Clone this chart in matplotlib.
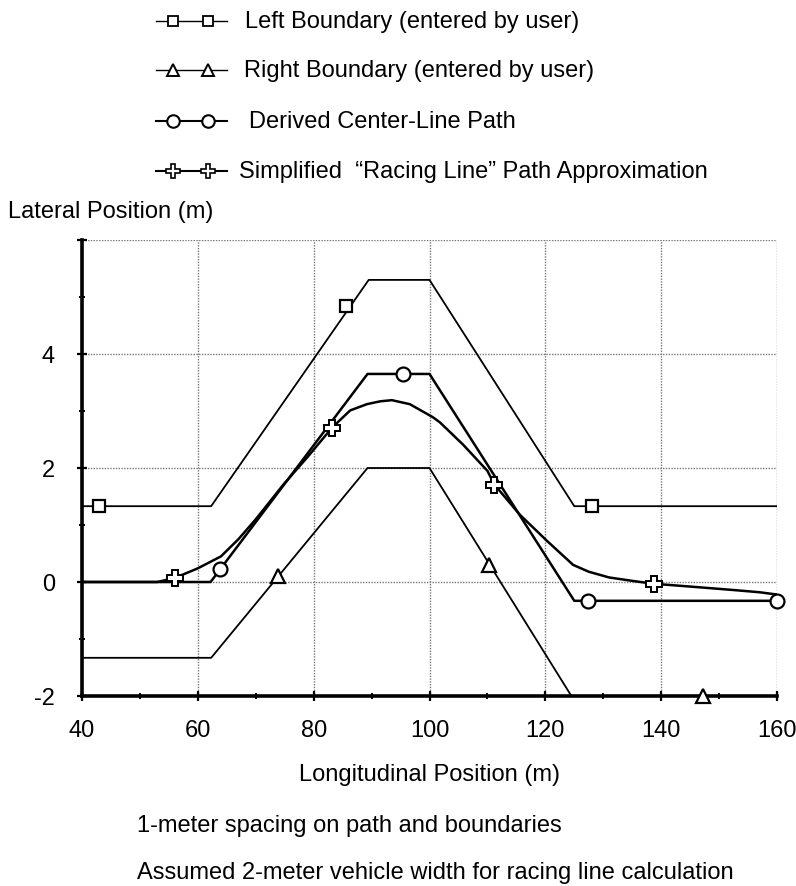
import matplotlib
matplotlib.use("Agg")
import matplotlib.pyplot as plt
from matplotlib.lines import Line2D
from matplotlib.ticker import MultipleLocator, FixedLocator

plt.rcParams['font.family'] = ['Liberation Sans', 'DejaVu Sans']

# ---- data ----
left_x = [40, 62.3, 89.5, 100, 125, 160]
left_y = [1.33, 1.33, 5.3, 5.3, 1.33, 1.33]
left_mx = [43, 85.5, 128]
left_my = [1.33, 4.85, 1.33]

right_x = [40, 62.3, 89.3, 100, 124.5, 160]
right_y = [-1.33, -1.33, 2.0, 2.0, -2.0, -2.0]
right_mx = [73.8, 110.3, 147.3]
right_my = [0.1, 0.3, -2.0]

center_x = [40, 62.2, 89.3, 100, 125, 160]
center_y = [0, 0, 3.65, 3.65, -0.33, -0.33]
center_mx = [63.8, 95.5, 127.3, 160]
center_my = [0.22, 3.65, -0.33, -0.33]

racing_x = [40, 53, 56, 60, 64, 67, 70, 74.7, 79, 83.2, 86.3, 89.2, 91.5, 93.5,
            96.6, 100.6, 101.8, 105.8, 110, 111.2, 115.6, 120.3, 124.8, 127.5,
            131, 135, 138.6, 145, 152.4, 157, 160]
racing_y = [0, 0, 0.07, 0.24, 0.45, 0.75, 1.1, 1.7, 2.2, 2.71, 3.01, 3.12, 3.17, 3.19,
            3.12, 2.89, 2.80, 2.41, 1.95, 1.71, 1.18, 0.72, 0.30, 0.18,
            0.08, 0.02, -0.03, -0.08, -0.14, -0.18, -0.22]
racing_mx = [56, 83.2, 111.2, 138.8]
racing_my = [0.07, 2.71, 1.71, -0.03]

labels = ["Left Boundary (entered by user)",
          "Right Boundary (entered by user)",
          "Derived Center-Line Path",
          "Simplified  \u201cRacing Line\u201d Path Approximation"]
x_ticks = [40, 60, 80, 100, 120, 140, 160]
y_ticks = [-2, 0, 2, 4, 6]
y_tick_labels = ["-2", "0", "2", "4", ""]
notes = ["1-meter spacing on path and boundaries",
         "Assumed 2-meter vehicle width for racing line calculation"]

W, H = 796, 887
fig = plt.figure(figsize=(W / 100, H / 100), dpi=100)
ax = fig.add_axes([82 / W, 1 - 697 / H, (777 - 82) / W, (697 - 241) / H])

FS = 17
mk = dict(color='black', markerfacecolor='white', markeredgecolor='black',
          linestyle='none', clip_on=False, zorder=5)

ax.plot(left_x, left_y, color='black', lw=1.3, zorder=3)
ax.plot(right_x, right_y, color='black', lw=1.3, zorder=3)
ax.plot(center_x, center_y, color='black', lw=1.8, zorder=3)
ax.plot(racing_x, racing_y, color='black', lw=1.8, zorder=3)

ax.plot(left_mx, left_my, marker='s', ms=9, mew=1.6, **mk)
ax.plot(right_mx, right_my, marker='^', ms=10, mew=1.6, **mk)
ax.plot(center_mx, center_my, marker='o', ms=10, mew=1.6, **mk)
ax.plot(racing_mx, racing_my, marker='P', ms=11, mew=1.4, **mk)

ax.set_xlim(40, 160)
ax.set_ylim(-2, 6)
ax.xaxis.set_major_locator(FixedLocator(x_ticks))
ax.xaxis.set_minor_locator(MultipleLocator(10))
ax.yaxis.set_major_locator(FixedLocator(y_ticks))
ax.set_yticklabels(y_tick_labels)
ax.yaxis.set_minor_locator(MultipleLocator(1))
ax.tick_params(axis='both', which='major', direction='inout', length=7, width=1.6,
               labelsize=FS, colors='black')
ax.tick_params(axis='both', which='minor', direction='inout', length=5, width=1.4)
ax.tick_params(axis='x', which='major', pad=13)
ax.tick_params(axis='y', which='major', pad=16)

ax.grid(True, which='major', color='#777777', linestyle=(0, (1, 1)), lw=1.0, zorder=1)
for s in ['top', 'right']:
    ax.spines[s].set_visible(False)
for s in ['left', 'bottom']:
    ax.spines[s].set_linewidth(2.6)
    ax.spines[s].set_zorder(4)

ax.set_xlabel("Longitudinal Position (m)", fontsize=FS, labelpad=16)
fig.text(8 / W, 1 - 212 / H, "Lateral Position (m)", fontsize=FS, ha='left', va='center')

# legend (manually placed)
rows_y = [22, 71, 122, 172]
text_x = [245, 244, 249, 239]
markers = [('s', 7, 1.3), ('^', 9, 1.4), ('o', 9, 1.5), ('P', 10, 1.2)]
line_w = [1.0, 1.0, 1.5, 1.5]
for yy, tx, lab, (m, ms, mew), lw in zip(rows_y, text_x, labels, markers, line_w):
    yf = 1 - yy / H
    fig.add_artist(Line2D([156 / W, 227 / W], [yf, yf], transform=fig.transFigure,
                          color='black', lw=lw))
    fig.add_artist(Line2D([173 / W, 208 / W], [yf, yf], transform=fig.transFigure,
                          color='black', linestyle='none', marker=m, ms=ms, mew=mew,
                          markerfacecolor='white', markeredgecolor='black'))
    fig.text(tx / W, yf, lab, fontsize=FS, ha='left', va='center')

fig.text(137 / W, 1 - 826 / H, notes[0], fontsize=FS, ha='left', va='center')
fig.text(137 / W, 1 - 873 / H, notes[1], fontsize=FS, ha='left', va='center')

fig.savefig("out.png", dpi=100)
